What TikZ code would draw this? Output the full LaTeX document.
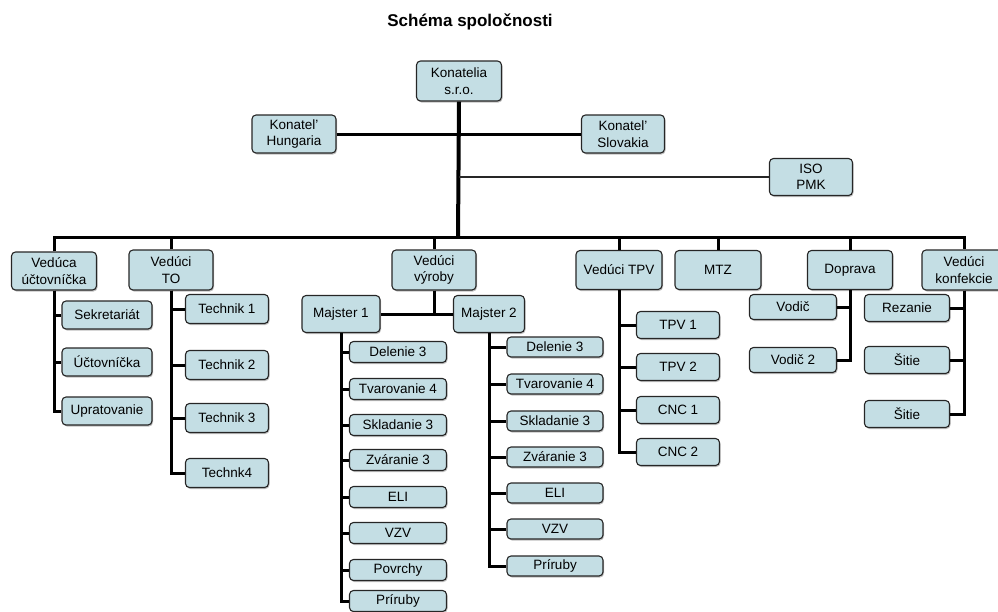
\documentclass[tikz,border=0pt]{standalone}
\usepackage{fontspec}
\setmainfont{Liberation Sans}
\usetikzlibrary{shadows}

\definecolor{boxfill}{RGB}{196,222,228}
\tikzset{
  box/.style={draw=black!85, line width=1.1pt, rounded corners=4pt, fill=boxfill,
    drop shadow={shadow xshift=1pt, shadow yshift=-1.5pt, fill=black!50},
    align=center, inner sep=1pt, font=\fontsize{13.5}{16.5}\selectfont},
  link/.style={line width=3pt, black},
  trunk/.style={line width=4pt, black}
}

\begin{document}
\begin{tikzpicture}[x=1pt, y=-1pt]
    \useasboundingbox (0,0) rectangle (998,611);

    \node (title) at (470,22) {\fontsize{17}{18}\selectfont\bfseries Schéma spoločnosti};

    \node[box, minimum width=85pt, minimum height=40pt] (konatelia) at (459,81) {Konatelia\\s.r.o.};
    \node[box, minimum width=84pt, minimum height=38pt] (hungaria) at (294,134) {Konatel'\\Hungaria};
    \node[box, minimum width=83pt, minimum height=38pt] (slovakia) at (623,134) {Konatel'\\Slovakia};
    \node[box, minimum width=83pt, minimum height=37pt] (iso) at (811,177) {ISO\\PMK};
    \coordinate (bus) at (458,237);

    \draw[trunk] (konatelia.south) -- (bus);
    \draw[link] (hungaria.east) -- (slovakia.west);
    \draw[link, black!85, line width=2.5pt] (iso.west) -- (konatelia.south |- iso.west);

    \node[box, minimum width=85pt, minimum height=38pt] (ucto) at (54,271) {Vedúca\\účtovníčka};
    \node[box, minimum width=84pt, minimum height=40pt] (veduto) at (171,270) {Vedúci\\TO};
    \node[box, minimum width=84pt, minimum height=40pt] (vyroba) at (434,270) {Vedúci\\výroby};
    \node[box, minimum width=86pt, minimum height=39pt] (tpv) at (619,270) {Vedúci TPV};
    \node[box, minimum width=86pt, minimum height=39pt] (mtz) at (718,270) {MTZ};
    \node[box, minimum width=85pt, minimum height=39pt] (doprava) at (850,270) {Doprava};
    \node[box, minimum width=84pt, minimum height=40pt] (konf) at (964,270) {Vedúci\\konfekcie};

    \draw[link] (ucto.north) |- (bus) -| (konf.north);
    \draw[link] (veduto.north) -- (veduto.north |- bus);
    \draw[link] (vyroba.north) -- (vyroba.north |- bus);
    \draw[link] (tpv.north) -- (tpv.north |- bus);
    \draw[link] (mtz.north) -- (mtz.north |- bus);
    \draw[link] (doprava.north) -- (doprava.north |- bus);

    \node[box, minimum width=90pt, minimum height=28pt] (sekr) at (107,315) {Sekretariát};
    \node[box, minimum width=90pt, minimum height=28pt] (uctovnicka) at (107,362) {Účtovníčka};
    \node[box, minimum width=90pt, minimum height=28pt] (uprat) at (107,411) {Upratovanie};
    \draw[link] (ucto.south) |- (sekr.west);
    \draw[link] (ucto.south) |- (uctovnicka.west);
    \draw[link] (ucto.south) |- (uprat.west);

    \node[box, minimum width=83pt, minimum height=29pt] (tech1) at (227,309) {Technik 1};
    \node[box, minimum width=83pt, minimum height=29pt] (tech2) at (227,365) {Technik 2};
    \node[box, minimum width=83pt, minimum height=29pt] (tech3) at (227,418) {Technik 3};
    \node[box, minimum width=83pt, minimum height=29pt] (tech4) at (227,473) {Technk4};
    \draw[link] (veduto.south) |- (tech1.west);
    \draw[link] (veduto.south) |- (tech2.west);
    \draw[link] (veduto.south) |- (tech3.west);
    \draw[link] (veduto.south) |- (tech4.west);

    \node[box, minimum width=78pt, minimum height=37pt] (majster1) at (341,314) {Majster 1};
    \node[box, minimum width=71pt, minimum height=37pt] (majster2) at (489,314) {Majster 2};
    \draw[link] (vyroba.south) |- (majster1.east);
    \draw[link] (vyroba.south) |- (majster2.west);

    \node[box, minimum width=97pt, minimum height=21pt] (delenie1) at (398,352) {Delenie 3};
    \node[box, minimum width=97pt, minimum height=21pt] (tvar1) at (398,389) {Tvarovanie 4};
    \node[box, minimum width=97pt, minimum height=21pt] (sklad1) at (398,425) {Skladanie 3};
    \node[box, minimum width=97pt, minimum height=21pt] (zvar1) at (398,460) {Zváranie 3};
    \node[box, minimum width=97pt, minimum height=21pt] (eli1) at (398,497) {ELI};
    \node[box, minimum width=97pt, minimum height=21pt] (vzv1) at (398,533) {VZV};
    \node[box, minimum width=97pt, minimum height=21pt] (povrchy1) at (398,570) {Povrchy};
    \node[box, minimum width=97pt, minimum height=21pt] (priruby1) at (398,601) {Príruby};
    \draw[link] (majster1.south) |- (delenie1.west);
    \draw[link] (majster1.south) |- (tvar1.west);
    \draw[link] (majster1.south) |- (sklad1.west);
    \draw[link] (majster1.south) |- (zvar1.west);
    \draw[link] (majster1.south) |- (eli1.west);
    \draw[link] (majster1.south) |- (vzv1.west);
    \draw[link] (majster1.south) |- (povrchy1.west);
    \draw[link] (majster1.south) |- (priruby1.west);

    \node[box, minimum width=96pt, minimum height=20pt] (delenie2) at (555,347) {Delenie 3};
    \node[box, minimum width=96pt, minimum height=20pt] (tvar2) at (555,384) {Tvarovanie 4};
    \node[box, minimum width=96pt, minimum height=20pt] (sklad2) at (555,421) {Skladanie 3};
    \node[box, minimum width=96pt, minimum height=20pt] (zvar2) at (555,457) {Zváranie 3};
    \node[box, minimum width=96pt, minimum height=20pt] (eli2) at (555,493) {ELI};
    \node[box, minimum width=96pt, minimum height=20pt] (vzv2) at (555,529) {VZV};
    \node[box, minimum width=96pt, minimum height=20pt] (priruby2) at (555,566) {Príruby};
    \draw[link] (majster2.south) |- (delenie2.west);
    \draw[link] (majster2.south) |- (tvar2.west);
    \draw[link] (majster2.south) |- (sklad2.west);
    \draw[link] (majster2.south) |- (zvar2.west);
    \draw[link] (majster2.south) |- (eli2.west);
    \draw[link] (majster2.south) |- (vzv2.west);
    \draw[link] (majster2.south) |- (priruby2.west);

    \node[box, minimum width=83pt, minimum height=27pt] (tpv1) at (678,325) {TPV 1};
    \node[box, minimum width=83pt, minimum height=27pt] (tpv2) at (678,367) {TPV 2};
    \node[box, minimum width=83pt, minimum height=27pt] (cnc1) at (678,410) {CNC 1};
    \node[box, minimum width=83pt, minimum height=27pt] (cnc2) at (678,452) {CNC 2};
    \draw[link] (tpv.south) |- (tpv1.west);
    \draw[link] (tpv.south) |- (tpv2.west);
    \draw[link] (tpv.south) |- (cnc1.west);
    \draw[link] (tpv.south) |- (cnc2.west);

    \node[box, minimum width=87pt, minimum height=25pt] (vodic1) at (793,307) {Vodič};
    \node[box, minimum width=87pt, minimum height=25pt] (vodic2) at (793,360) {Vodič 2};
    \draw[link] (doprava.south) |- (vodic1.east);
    \draw[link] (doprava.south) |- (vodic2.east);

    \node[box, minimum width=85pt, minimum height=27pt] (rezanie) at (907,308) {Rezanie};
    \node[box, minimum width=85pt, minimum height=27pt] (sitie1) at (907,360) {Šitie};
    \node[box, minimum width=85pt, minimum height=27pt] (sitie2) at (907,414) {Šitie};
    \draw[link] (konf.south) |- (rezanie.east);
    \draw[link] (konf.south) |- (sitie1.east);
    \draw[link] (konf.south) |- (sitie2.east);
\end{tikzpicture}
\end{document}
